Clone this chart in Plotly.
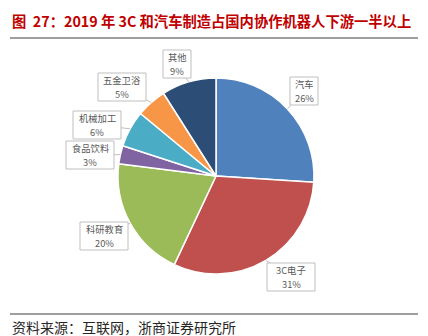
import math
import plotly.graph_objects as go

# Downstream share of collaborative robots in China, 2019
categories = ["汽车", "3C电子", "科研教育", "食品饮料", "机械加工", "五金卫浴", "其他"]
shares = [26, 31, 20, 3, 6, 5, 9]
colors = ["#4F81BD", "#C0504D", "#9BBB59", "#8064A2", "#4BACC6", "#F79646", "#2C4D75"]
# label box centres in pixels
label_pos = [(304, 91), (291, 277), (104, 236), (90, 155), (97, 125), (122, 87), (177, 64)]

W, H = 428, 336
CX, CY, R = 216, 176, 98


def px2x(px):
    return px / W


def px2y(py):
    return 1 - py / H


fig = go.Figure(go.Pie(
    labels=categories,
    values=shares,
    sort=False,
    direction="clockwise",
    rotation=0,
    marker=dict(colors=colors, line=dict(color="white", width=1.5)),
    textinfo="none",
    hoverinfo="label+percent",
    domain=dict(x=[px2x(CX - R), px2x(CX + R)], y=[px2y(CY + R), px2y(CY - R)]),
    showlegend=False,
))

label_font = dict(family="Noto Sans CJK SC", size=9.3, color="#595959")
total = sum(shares)
cum = 0
annotations = []
shapes = []
for name, v, (bx, by) in zip(categories, shares, label_pos):
    mid = (cum + v / 2) / total * 2 * math.pi
    cum += v
    # point on the rim at the slice's middle angle
    px = CX + R * math.sin(mid)
    py = CY - R * math.cos(mid)
    hw = (10 * len(name) + 8) / 2
    hh = 14
    dx, dy = px - bx, py - by
    t = min(hw / abs(dx) if dx else 1e9, hh / abs(dy) if dy else 1e9)
    sx, sy = bx + t * dx, by + t * dy
    shapes.append(dict(type="line", xref="paper", yref="paper",
                       x0=px2x(sx), y0=px2y(sy), x1=px2x(px), y1=px2y(py),
                       line=dict(color="#BFBFBF", width=1)))
    shapes.append(dict(type="rect", xref="paper", yref="paper",
                       x0=px2x(bx - hw), x1=px2x(bx + hw), y0=px2y(by + hh), y1=px2y(by - hh),
                       fillcolor="white", line=dict(color="#BFBFBF", width=1)))
    annotations.append(dict(x=px2x(bx), y=px2y(by - 7), xref="paper", yref="paper",
                            text=name, showarrow=False, font=label_font,
                            xanchor="center", yanchor="middle"))
    annotations.append(dict(x=px2x(bx), y=px2y(by + 7), xref="paper", yref="paper",
                            text=f"{round(v / total * 100)}%", showarrow=False, font=label_font,
                            xanchor="center", yanchor="middle"))

annotations.append(dict(
    x=px2x(10), y=px2y(20), xref="paper", yref="paper", xanchor="left", yanchor="middle",
    text="<b>图&nbsp;&nbsp;27：2019 年 3C 和汽车制造占国内协作机器人下游一半以上</b>",
    showarrow=False, font=dict(family="Noto Sans CJK SC", size=14.3, color="#C00000"),
))
annotations.append(dict(
    x=px2x(10), y=px2y(327), xref="paper", yref="paper", xanchor="left", yanchor="middle",
    text="资料来源：互联网，浙商证券研究所",
    showarrow=False, font=dict(family="Noto Sans CJK SC", size=14, color="#262626"),
))

for ly in (38, 314):
    shapes.append(dict(type="line", xref="paper", yref="paper",
                       x0=px2x(10), x1=px2x(418), y0=px2y(ly), y1=px2y(ly),
                       line=dict(color="#7F7F7F", width=1.5)))

fig.update_layout(
    width=W, height=H,
    margin=dict(l=0, r=0, t=0, b=0),
    paper_bgcolor="white", plot_bgcolor="white",
    annotations=annotations, shapes=shapes,
)

fig.write_html("out.html")
